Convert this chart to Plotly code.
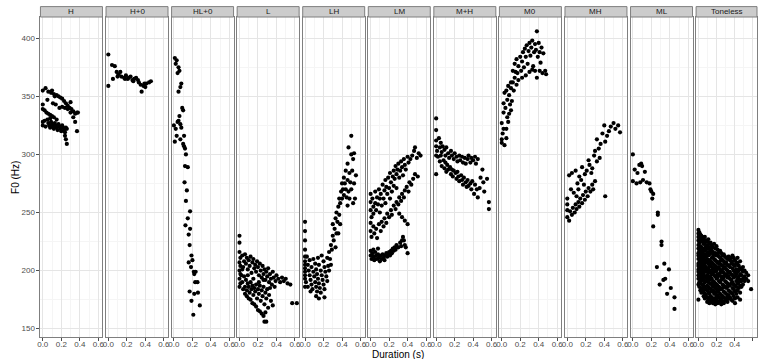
import plotly.graph_objects as go

tones = ["H", "H+0", "HL+0", "L", "LH", "LM", "M+H", "M0", "MH", "ML", "Toneless"]

x_ticks = [0.0, 0.2, 0.4, 0.6]
x_tick_labels = ["0.0", "0.2", "0.4", "0.6"]
y_ticks = [150, 200, 250, 300, 350, 400]
y_tick_labels = ["150", "200", "250", "300", "350", "400"]

# (duration s, F0 Hz)
H_pts = [(0.00,355),(0.03,357),(0.06,354),(0.09,353),(0.12,352),(0.15,351),(0.17,350),(0.19,349),
         (0.21,348),(0.23,346),(0.25,344),(0.27,342),(0.29,340),(0.31,339),(0.33,337),(0.35,335),
         (0.37,336),(0.38,336),(0.13,350),(0.10,355),
         (0.00,343),(0.00,339),(0.02,338),(0.04,336),(0.06,335),(0.08,334),(0.10,333),(0.12,332),
         (0.05,347),(0.11,344),(0.14,343),(0.18,340),(0.21,341),(0.24,340),(0.27,339),(0.30,336),
         (0.33,332),(0.35,328),(0.30,345),
         (0.00,328),(0.00,325),(0.02,329),(0.03,324),(0.05,330),(0.06,327),(0.07,325),(0.08,323),
         (0.09,328),(0.10,326),(0.11,324),(0.12,322),(0.13,327),(0.14,325),(0.15,323),(0.16,321),
         (0.17,326),(0.18,324),(0.19,322),(0.20,320),(0.21,325),(0.22,323),(0.23,321),(0.24,319),
         (0.25,323),(0.26,322),(0.24,316),(0.25,313),(0.26,309),(0.37,320),(0.15,330),(0.08,331)]

H0_pts = [(0.00,386),(0.00,359),(0.04,377),(0.07,376),(0.05,365),(0.09,371),(0.11,369),(0.13,371),
          (0.14,367),(0.17,366),(0.19,368),(0.21,365),(0.22,366),(0.24,367),(0.26,364),(0.28,365),
          (0.30,366),(0.32,364),(0.33,362),(0.35,360),(0.36,354),(0.38,359),(0.40,358),(0.41,361),
          (0.44,362),(0.46,363),(0.10,367),(0.18,365),(0.27,363),(0.39,361)]

HL0_pts = [(0.01,383),(0.03,381),(0.02,378),(0.05,375),(0.06,372),(0.04,370),(0.05,354),(0.08,361),
           (0.07,358),(0.00,325),(0.01,311),(0.02,322),(0.03,316),(0.04,328),(0.05,329),(0.07,326),
           (0.06,333),(0.09,340),(0.10,338),(0.08,323),(0.11,307),(0.12,305),(0.13,300),(0.11,316),
           (0.07,313),(0.12,290),(0.15,289),(0.10,309),
           (0.115,276),(0.14,269),(0.13,260),(0.15,245),(0.175,251),(0.125,239),(0.16,231),(0.175,236),
           (0.17,222),(0.19,213),(0.20,209),(0.16,207),(0.185,203),(0.215,199),(0.22,197),(0.235,199),
           (0.23,190),(0.255,190),(0.17,182),(0.22,180),(0.26,181),(0.19,174),(0.21,162),(0.28,170)]

L_pts = [(0,230),(0,224),(0.00,216),(0.01,211),(0.00,207),(0.01,204),(0.00,200),(0.01,197),(0.00,193),
         (0.01,189),(0.00,186),
         (0.03,213),(0.05,208),(0.04,203),(0.06,214),(0.07,206),(0.08,211),(0.09,201),(0.10,209),(0.11,204),
         (0.12,212),(0.13,198),(0.14,207),(0.15,210),(0.16,202),(0.17,205),(0.18,199),(0.19,208),(0.20,203),
         (0.21,196),(0.22,206),(0.23,200),(0.24,194),(0.25,204),(0.26,197),(0.27,201),(0.28,192),(0.29,199),
         (0.30,195),(0.31,202),(0.32,190),(0.33,197),(0.34,193),(0.35,188),(0.36,199),(0.37,194),(0.39,191),
         (0.40,196),(0.42,193),(0.44,190),(0.46,194),(0.48,191),(0.50,193),(0.52,189),(0.55,188),(0.38,186),
         (0.33,185),
         (0.02,196),(0.03,190),(0.05,195),(0.06,186),(0.07,192),(0.08,183),(0.09,189),(0.10,186),(0.11,181),
         (0.12,190),(0.13,184),(0.14,187),(0.15,179),(0.16,185),(0.17,182),(0.18,188),(0.19,176),(0.20,184),
         (0.21,180),(0.22,187),(0.23,174),(0.24,183),(0.25,178),(0.26,186),(0.27,171),(0.28,181),(0.29,176),
         (0.30,184),(0.31,168),(0.32,179),(0.34,174),(0.36,170),
         (0.04,184),(0.06,180),(0.08,178),(0.10,176),(0.12,175),(0.14,172),(0.16,171),(0.18,169),(0.20,166),
         (0.22,165),(0.24,163),(0.26,161),(0.28,164),(0.27,156),(0.29,156),(0.57,172),(0.62,172),(0.03,201),
         (0.09,196),(0.15,193),(0.21,190),(0.26,192)]

LH_pts = [(0,242),(0,234),(0,226),(0,218),(0,212),(0,208),(0,205),(0,202),(0,199),(0,196),(0,193),(0.01,190),(0.0,186),
          (0.02,212),(0.03,205),(0.04,200),(0.05,196),(0.06,192),(0.07,188),(0.08,184),(0.05,209),(0.07,203),
          (0.09,199),(0.10,195),(0.11,190),(0.12,186),(0.13,182),(0.09,210),(0.11,206),(0.12,201),(0.13,197),
          (0.14,193),(0.15,189),(0.16,185),(0.17,181),(0.14,211),(0.15,205),(0.17,200),(0.18,196),(0.19,192),
          (0.20,188),(0.21,184),(0.18,213),(0.20,208),(0.21,203),(0.22,199),(0.23,195),(0.24,191),(0.12,178),
          (0.15,176),(0.21,177),(0.03,186),(0.06,182),(0.24,211),(0.25,204),(0.26,216),
          (0.26,200),(0.27,210),(0.28,222),(0.29,218),(0.30,230),(0.30,240),(0.31,226),(0.32,236),(0.33,245),
          (0.34,232),(0.34,250),(0.35,242),(0.36,255),(0.37,248),(0.37,262),(0.38,258),(0.39,268),(0.40,262),
          (0.40,275),(0.41,270),(0.42,265),(0.42,280),(0.43,275),(0.44,270),(0.44,286),(0.45,263),(0.46,278),
          (0.46,292),(0.47,268),(0.48,284),(0.48,262),(0.49,276),(0.50,270),(0.50,300),(0.51,286),(0.52,258),
          (0.52,296),(0.53,275),(0.54,262),(0.55,282),(0.47,306),(0.50,316),(0.53,301),(0.46,256),(0.38,240),
          (0.33,220),(0.28,205),(0.36,232)]

LM_pts = [(0.00,266),(0.00,259),(0.00,252),(0.01,246),(0.02,262),(0.03,255),(0.03,249),(0.05,268),(0.05,258),
          (0.06,252),(0.07,263),(0.08,257),(0.09,270),(0.10,250),(0.10,262),(0.11,266),(0.12,256),(0.13,274),
          (0.14,262),(0.15,269),(0.16,278),(0.16,258),(0.17,272),(0.18,266),(0.19,280),(0.20,271),(0.21,262),
          (0.21,284),(0.22,276),(0.23,268),(0.24,281),(0.25,286),(0.25,273),(0.26,279),(0.27,290),(0.28,283),
          (0.28,271),(0.29,287),(0.30,292),(0.31,280),(0.32,286),(0.33,294),(0.34,289),(0.35,282),(0.36,296),
          (0.37,291),(0.38,287),(0.40,298),(0.41,293),(0.43,296),(0.45,299),(0.47,303),(0.48,306),(0.50,297),
          (0.52,301),(0.54,299),
          (0.00,241),(0.00,234),(0.01,229),(0.03,238),(0.04,232),(0.06,236),(0.07,228),(0.09,240),(0.11,234),
          (0.12,242),(0.14,238),(0.15,245),(0.17,241),(0.18,249),(0.20,246),(0.22,252),(0.23,248),(0.25,256),
          (0.27,253),(0.28,259),(0.30,257),(0.31,263),(0.33,260),(0.34,266),(0.36,263),(0.37,269),(0.39,272),
          (0.41,268),(0.42,276),(0.44,274),(0.46,279),(0.48,283),(0.51,281),(0.31,249),(0.34,246),(0.37,243),
          (0.40,240),
          (0.00,217),(0.00,213),(0.01,210),(0.02,215),(0.03,212),(0.04,209),(0.05,216),(0.06,213),(0.07,210),
          (0.08,214),(0.09,211),(0.10,208),(0.11,213),(0.12,210),(0.13,214),(0.14,211),(0.15,209),(0.16,213),
          (0.17,215),(0.18,212),(0.19,214),(0.20,216),(0.21,213),(0.22,217),(0.23,215),(0.24,219),(0.25,217),
          (0.26,220),(0.27,218),(0.28,222),(0.30,220),(0.32,224),(0.33,221),(0.34,226),(0.35,229),(0.36,226),
          (0.37,222),(0.38,220),(0.40,215),(0.03,218),(0.08,219),(0.05,210)]

MpH_pts = [(0.00,331),(0.00,321),(0.00,312),(0.00,307),(0.01,303),(0.00,299),(0.00,283),(0.03,314),(0.04,306),
           (0.05,310),(0.06,302),(0.07,307),(0.09,304),(0.10,299),(0.11,306),(0.13,301),(0.14,297),(0.16,303),
           (0.17,299),(0.19,296),(0.20,301),(0.22,298),(0.23,294),(0.25,299),(0.26,295),(0.28,298),(0.29,293),
           (0.31,297),(0.32,292),(0.34,296),(0.35,299),(0.37,293),(0.38,297),(0.40,295),(0.42,298),(0.43,292),
           (0.45,296),
           (0.02,298),(0.04,294),(0.05,299),(0.06,290),(0.08,295),(0.09,288),(0.10,293),(0.11,285),(0.12,291),
           (0.13,287),(0.15,289),(0.16,283),(0.17,287),(0.18,281),(0.19,286),(0.21,284),(0.22,279),(0.23,285),
           (0.24,281),(0.25,277),(0.27,282),(0.28,278),(0.29,274),(0.30,280),(0.32,276),(0.33,272),(0.34,278),
           (0.35,273),(0.37,275),(0.38,270),(0.39,277),(0.41,266),(0.42,274),(0.44,270),(0.45,263),(0.47,271),
           (0.48,280),(0.50,287),(0.51,276),(0.52,268),(0.55,279),(0.57,259),(0.57,253)]

M0_pts = [(0.00,310),(0.00,313),(0.01,318),(0.02,322),(0.00,327),(0.03,308),(0.05,314),(0.05,322),(0.02,336),
          (0.04,340),(0.06,332),(0.08,335),(0.07,328),(0.09,343),(0.10,338),(0.11,346),(0.03,353),(0.05,355),
          (0.07,359),(0.08,351),(0.10,357),(0.12,362),(0.13,355),(0.14,366),(0.16,360),(0.17,370),(0.18,364),
          (0.12,372),(0.14,378),(0.16,382),(0.18,376),(0.20,384),(0.22,380),(0.21,372),(0.23,388),(0.24,375),
          (0.25,391),(0.26,384),(0.27,394),(0.28,378),(0.29,389),(0.30,396),(0.31,385),(0.32,392),(0.33,398),
          (0.34,376),(0.35,388),(0.36,395),(0.37,390),(0.38,406),(0.39,384),(0.40,396),(0.41,388),(0.42,379),
          (0.43,392),(0.44,370),(0.45,387),(0.47,372),(0.48,369),(0.36,372),(0.30,371),(0.26,368),(0.38,366),
          (0.22,366),(0.10,362),(0.06,347),(0.02,344),(0.15,371),(0.41,372),(0.33,373)]

MH_pts = [(0.00,262),(0.00,257),(0.00,252),(0.00,246),(0.02,243),(0.03,251),(0.05,248),(0.06,254),(0.08,250),
          (0.09,257),(0.10,253),(0.12,259),(0.13,255),(0.14,262),(0.16,258),(0.17,265),(0.19,261),(0.20,268),
          (0.22,264),(0.23,271),(0.25,268),(0.27,274),(0.28,270),(0.30,277),(0.04,270),(0.07,267),(0.11,275),
          (0.12,270),(0.15,278),(0.18,274),(0.19,283),(0.02,282),(0.05,284),(0.09,286),(0.13,281),(0.16,289),
          (0.21,286),(0.24,291),(0.27,288),(0.23,295),(0.29,299),(0.32,294),(0.30,303),(0.34,305),(0.32,313),
          (0.36,309),(0.38,318),(0.41,311),(0.40,325),(0.43,316),(0.45,320),(0.47,324),(0.50,327),(0.52,322),
          (0.55,325),(0.57,319),(0.41,264),(0.26,284),(0.10,264),(0.35,297)]

ML_pts = [(0.00,300),(0.02,287),(0.05,284),(0.07,291),(0.09,292),(0.10,290),(0.13,285),(0.00,277),(0.04,275),
          (0.08,276),(0.11,278),(0.15,276),(0.18,275),(0.19,270),(0.20,268),(0.22,266),(0.21,262),(0.27,250),
          (0.27,248),(0.22,238),(0.31,225),(0.31,222),(0.26,203),(0.34,206),(0.39,201),(0.29,188),(0.33,192),
          (0.35,193),(0.41,185),(0.37,180),(0.45,177),(0.45,167)]

# Toneless: (duration, F0 values observed at that duration)
Toneless_cols = [
    (0.000,[235,232,229,226,222,219,215,213,210,206,204,201,199,196,193,188,175]),
    (0.010,[233,227,224,218,216,211,207,203,198,195,190,186]),
    (0.022,[231,228,221,217,214,209,205,200,197,192,189,183]),
    (0.033,[230,225,220,215,212,208,203,201,194,191,185,181]),
    (0.047,[229,226,218,216,210,207,202,198,195,188,184]),
    (0.058,[227,223,219,213,211,205,200,197,192,187,182,178]),
    (0.071,[229,224,217,214,209,204,201,195,190,186,180,176]),
    (0.083,[226,221,218,212,207,203,199,194,191,184,179]),
    (0.097,[225,222,215,210,208,201,196,193,187,183,177,173]),
    (0.109,[227,219,216,213,206,202,198,190,186,181,175]),
    (0.121,[223,220,214,209,204,200,195,192,185,180,176,172]),
    (0.134,[224,218,215,208,205,199,194,189,184,178,174]),
    (0.148,[222,217,211,207,203,197,193,188,182,177,173]),
    (0.160,[220,216,212,206,201,198,191,186,183,175,172]),
    (0.173,[223,214,210,205,202,196,190,187,180,176,173]),
    (0.186,[219,215,209,204,199,195,189,185,181,174,171]),
    (0.199,[221,213,208,203,200,193,188,184,178,175]),
    (0.212,[218,214,207,202,197,194,187,182,179,172]),
    (0.226,[216,212,206,203,196,191,186,183,177,173]),
    (0.239,[217,211,208,201,198,190,185,180,176,174]),
    (0.252,[215,210,205,200,195,192,184,179,175,171]),
    (0.266,[213,209,204,199,193,188,185,178,173]),
    (0.279,[214,208,202,198,194,187,182,177,172]),
    (0.293,[212,206,203,196,191,186,181,176,174]),
    (0.306,[211,207,201,197,190,185,180,175]),
    (0.320,[210,205,200,194,189,186,178,173]),
    (0.333,[212,204,198,195,188,183,179,176]),
    (0.347,[209,203,199,193,187,182,177]),
    (0.361,[211,206,197,192,189,181,175]),
    (0.375,[213,208,202,196,190,185,180,174]),
    (0.389,[211,205,200,194,188,184,178]),
    (0.403,[209,204,198,195,187,182,176,172]),
    (0.417,[207,201,197,191,186,180]),
    (0.431,[211,206,199,193,189,183,177]),
    (0.445,[204,200,195,190,185]),
    (0.459,[208,202,197,192,187,181,175]),
    (0.474,[201,196,191,186]),
    (0.490,[203,199,193,188]),
    (0.508,[200,195,191]),
    (0.527,[198,193]),
    (0.548,[196,191]),
    (0.580,[184]),
]
Toneless_pts = [(d, f) for d, fs in Toneless_cols for f in fs]

panel_pts = [H_pts, H0_pts, HL0_pts, L_pts, LH_pts, LM_pts, MpH_pts, M0_pts, MH_pts, ML_pts, Toneless_pts]

W, Hh = 759, 359
FONT = "Liberation Sans, Arial, sans-serif"
left0, pitch, pw = 37.7, 66.0, 62.4
ptop, pbot = 17.0, 336.7
stop_, sbot = 6.6, 17.0

fig = go.Figure()
layout = dict(
    width=W, height=Hh, margin=dict(l=0, r=0, t=0, b=0),
    paper_bgcolor="white", plot_bgcolor="white", showlegend=False,
    font=dict(family=FONT),
)
shapes, annotations = [], []
for i, (tone, pts) in enumerate(zip(tones, panel_pts)):
    sfx = "" if i == 0 else str(i + 1)
    x0 = (left0 + pitch * i) / W
    x1 = min(1.0, (left0 + pitch * i + pw) / W)
    fig.add_trace(go.Scatter(
        x=[p[0] for p in pts], y=[p[1] for p in pts], mode="markers",
        marker=dict(color="black", size=4.2, line=dict(width=0)),
        xaxis="x" + sfx, yaxis="y" + sfx, hoverinfo="skip"))
    layout["xaxis" + sfx] = dict(
        domain=[x0, x1], anchor="y" + sfx, range=[-0.025, 0.645],
        tickvals=x_ticks, ticktext=x_tick_labels, ticks="outside", ticklen=3,
        tickwidth=1, tickcolor="#4d4d4d", tickfont=dict(size=8, color="#4d4d4d", family=FONT),
        ticklabelstandoff=-3,
        showgrid=True, gridcolor="#E5E5E5", gridwidth=1,
        minor=dict(tickvals=[0.1, 0.3, 0.5], showgrid=True, gridcolor="#F5F5F5", gridwidth=1, ticks=""),
        showline=True, linecolor="#7f7f7f", linewidth=1, mirror=True, zeroline=False,
    )
    layout["yaxis" + sfx] = dict(
        domain=[1 - pbot / Hh, 1 - ptop / Hh], anchor="x" + sfx, range=[143.1, 418.3],
        tickvals=y_ticks, ticktext=y_tick_labels,
        ticks="outside" if i == 0 else "", ticklen=3, tickwidth=1, tickcolor="#4d4d4d",
        showticklabels=(i == 0), tickfont=dict(size=8, color="#4d4d4d", family=FONT),
        showgrid=True, gridcolor="#E5E5E5", gridwidth=1,
        minor=dict(tickvals=[175, 225, 275, 325, 375], showgrid=True, gridcolor="#F5F5F5", gridwidth=1, ticks=""),
        showline=True, linecolor="#7f7f7f", linewidth=1, mirror=True, zeroline=False,
    )
    shapes.append(dict(type="rect", xref="paper", yref="paper", x0=x0, x1=x1,
                       y0=1 - sbot / Hh, y1=1 - stop_ / Hh,
                       fillcolor="#CCCCCC", line=dict(color="#7f7f7f", width=1), layer="above"))
    annotations.append(dict(text=tone, xref="paper", yref="paper",
                            x=(left0 + pitch * i + pw / 2) / W, y=1 - (stop_ + sbot) / 2 / Hh,
                            showarrow=False, xanchor="center", yanchor="middle",
                            font=dict(size=8, color="#1a1a1a", family=FONT)))

annotations.append(dict(text="Duration (s)", xref="paper", yref="paper", x=398 / W, y=1 - 354.5 / Hh,
                        showarrow=False, xanchor="center", yanchor="middle",
                        font=dict(size=10, color="black", family=FONT)))
annotations.append(dict(text="F0 (Hz)", xref="paper", yref="paper", x=12 / W, y=1 - 177 / Hh,
                        showarrow=False, xanchor="center", yanchor="middle", textangle=-90,
                        font=dict(size=10, color="black", family=FONT)))
layout["shapes"] = shapes
layout["annotations"] = annotations
fig.update_layout(**layout)
fig.write_html("out.html")
